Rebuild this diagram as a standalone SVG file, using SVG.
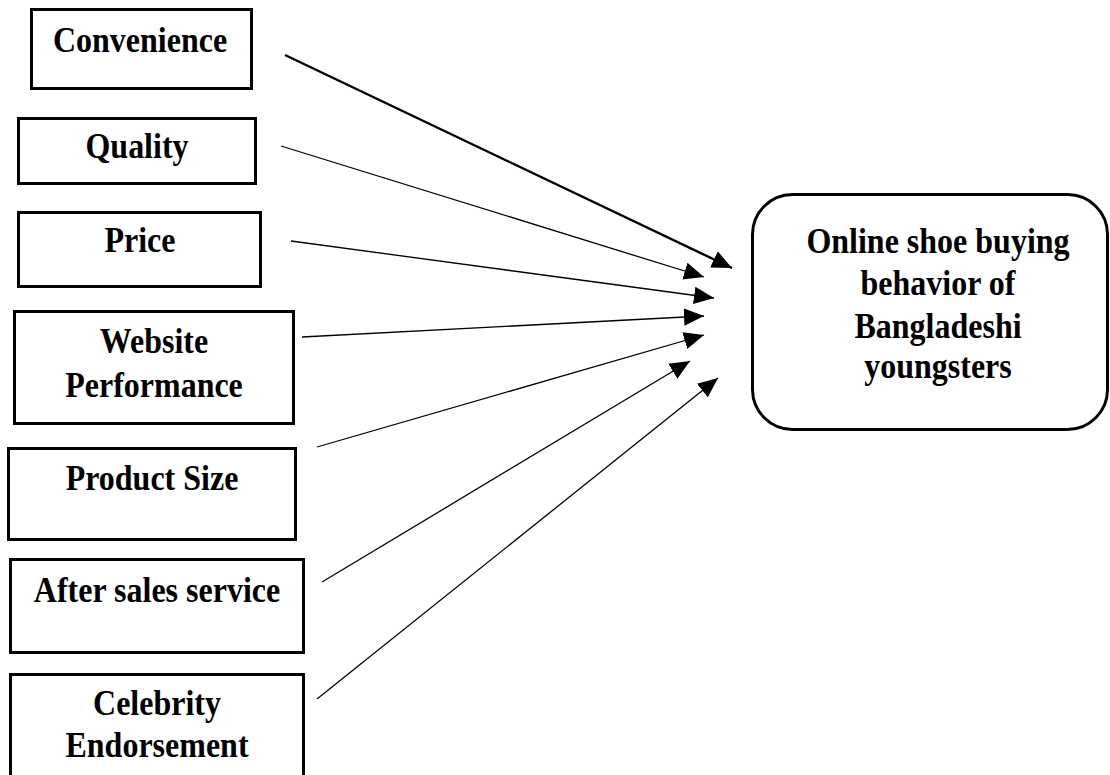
<svg xmlns="http://www.w3.org/2000/svg" width="1110" height="775" viewBox="0 0 1110 775">
<defs>
<style>
.box{fill:#fff;stroke:#000;stroke-width:3}
.t{font-family:"Liberation Serif","Times New Roman",serif;font-weight:bold;font-size:32px;fill:#000;text-anchor:middle}
.c{stroke:#000;stroke-width:1.3;fill:none;marker-end:url(#ah)}
.ct{stroke:#000;stroke-width:2.4;fill:none;marker-end:url(#ahb)}
</style>
<marker id="ah" markerUnits="userSpaceOnUse" markerWidth="20" markerHeight="20" viewBox="0 0 16 14" refX="16" refY="7" orient="auto">
<path d="M0,0 L16,7 L0,14 Z" fill="#000"/>
</marker>
<marker id="ahb" markerUnits="userSpaceOnUse" markerWidth="20" markerHeight="20" viewBox="0 0 18 16" refX="18" refY="8" orient="auto">
<path d="M0,0 L18,8 L0,16 Z" fill="#000"/>
</marker>
</defs>
<rect width="1110" height="775" fill="#fff"/>
<g id="connectors">
<line class="ct" x1="285" y1="55" x2="732" y2="268"/>
<line class="c" x1="281" y1="146" x2="704" y2="277"/>
<line class="c" x1="291" y1="241" x2="714" y2="298"/>
<line class="c" x1="302" y1="337" x2="704" y2="316"/>
<line class="c" x1="317" y1="447" x2="704" y2="335"/>
<line class="c" x1="322" y1="582" x2="690" y2="361"/>
<line class="c" x1="317" y1="699" x2="718" y2="378"/>
</g>
<g id="convenience">
<rect class="box" x="31.5" y="9.5" width="220" height="79"/>
<text class="t" transform="translate(140,52) scale(1,1.12)">Convenience</text>
</g>
<g id="quality">
<rect class="box" x="18.5" y="118.5" width="237" height="65"/>
<text class="t" transform="translate(137,158) scale(1,1.12)">Quality</text>
</g>
<g id="price">
<rect class="box" x="18.5" y="212.5" width="242" height="74"/>
<text class="t" transform="translate(140,252) scale(1,1.12)">Price</text>
</g>
<g id="website">
<rect class="box" x="14.5" y="311.5" width="279" height="112"/>
<text class="t" transform="translate(154,353) scale(1,1.12)">Website</text>
<text class="t" transform="translate(154,397) scale(1,1.12)">Performance</text>
</g>
<g id="productsize">
<rect class="box" x="8.5" y="448.5" width="287" height="91"/>
<text class="t" transform="translate(152,490) scale(1,1.12)">Product Size</text>
</g>
<g id="aftersales">
<rect class="box" x="10.5" y="559.5" width="293" height="93"/>
<text class="t" transform="translate(157,602) scale(1,1.12)">After sales service</text>
</g>
<g id="celebrity">
<rect class="box" x="10.5" y="674.5" width="293" height="110"/>
<text class="t" transform="translate(157,715) scale(1,1.12)">Celebrity</text>
<text class="t" transform="translate(157,757) scale(1,1.12)">Endorsement</text>
</g>
<g id="outcome">
<rect class="box" x="752.5" y="194.5" width="355" height="235" rx="40" ry="40"/>
<text class="t" transform="translate(938,253) scale(1,1.12)">Online shoe buying</text>
<text class="t" transform="translate(938,295) scale(1,1.12)">behavior of</text>
<text class="t" transform="translate(938,338) scale(1,1.12)">Bangladeshi</text>
<text class="t" transform="translate(938,378) scale(1,1.12)">youngsters</text>
</g>
</svg>
